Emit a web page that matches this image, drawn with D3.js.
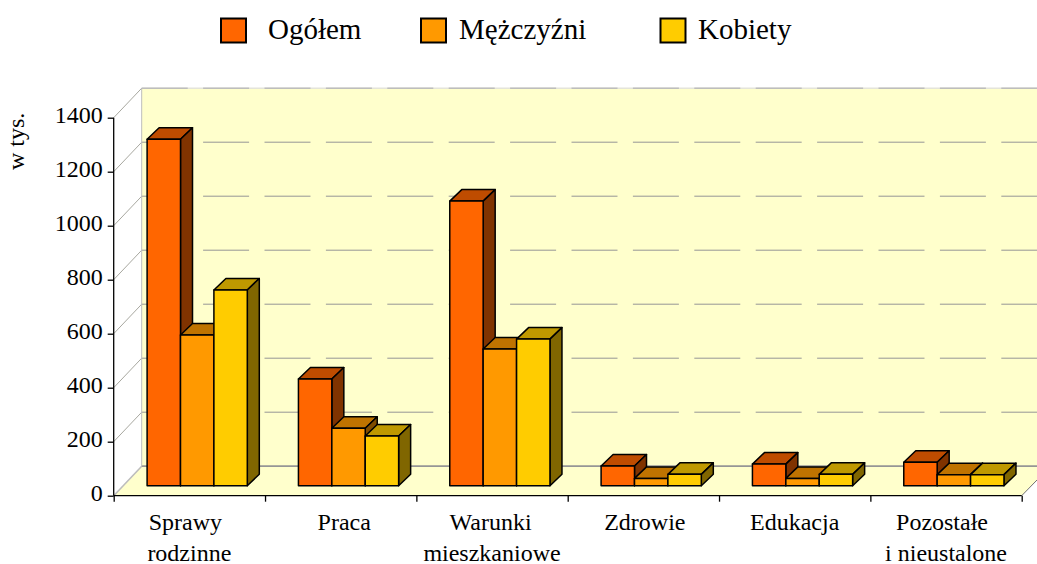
<!DOCTYPE html>
<html><head><meta charset="utf-8">
<script src="https://cdn.jsdelivr.net/npm/d3@7/dist/d3.min.js"></script>
<style>html,body{margin:0;padding:0;background:#fff}svg{display:block}text{font-family:"Liberation Serif",serif;fill:#000}</style>
</head><body><svg id="c" width="1037" height="564"></svg>
<script>
const categories = [["Sprawy","rodzinne"],["Praca"],["Warunki","mieszkaniowe"],["Zdrowie"],["Edukacja"],["Pozostałe","i nieustalone"]];
const seriesNames = ["Ogółem","Mężczyźni","Kobiety"];
const ogolem = [1283,395,1054,73,80,87];
const mezczyzni = [558,213,506,27,27,41];
const kobiety = [725,184,543,42,42,41];
const yTicks = [0,200,400,600,800,1000,1200,1400];
const frontColors = ["#FF6600","#FF9900","#FFCC00"];
const topColors = ["#BF4C00","#BF7300","#BF9900"];
const sideColors = ["#803300","#804D00","#806600"];
const legendBoxX = [221,421,660.5];
const legendTextX = [268,459,698];
const labelShift = [[-4,0],[3.5],[-1.5,0],[1.5],[0],[-4,0]];

const W=1037,H=564;
const svg=d3.select("#c");
const x0=d3.scaleBand().domain(d3.range(categories.length)).range([113.7,1021.7]);
const xS=d3.scaleBand().domain(d3.range(3)).range([33.4,133.6]);
const y=d3.scaleLinear().domain([0,1400]).range([495.7,117.7]);
const wallDx=28, wallDy=-29.5, barDy=-10, depthX=12, depthY=-11.5;
const poly=p=>p.map(a=>a.join(",")).join(" ");
const xL=x0.range()[0], xR=x0.range()[1];

// walls
svg.append("polygon").attr("points",poly([[xL,y(0)],[xL+wallDx,y(0)+wallDy],[xL+wallDx,y(1400)+wallDy],[W,y(1400)+wallDy],[W,y(0)-15.7],[xR,y(0)],[xL,y(0)]])).attr("fill","#FFFFCC");

// gridlines
const gg=svg.append("g");
gg.append("line").attr("x1",xL+wallDx).attr("x2",W).attr("y1",y(1400)+wallDy).attr("y2",y(1400)+wallDy).attr("stroke","#E4E4DA").attr("stroke-width",1.5);
yTicks.forEach(t=>{
  const yy=y(t)+wallDy;
  gg.append("line").attr("x1",xL).attr("y1",y(t)).attr("x2",xL+wallDx).attr("y2",yy)
    .attr("stroke",t===0?"#BDBDBD":"#A8A8A0").attr("stroke-width",t===0?1.6:1);
  const l=gg.append("line").attr("x1",xL+wallDx).attr("x2",W).attr("y1",yy).attr("y2",yy);
  if(t===0) l.attr("stroke","#969696").attr("stroke-width",1.8);
  else if(t===1400) l.attr("stroke","#BDBDBD").attr("stroke-width",1.5).attr("stroke-dasharray","46 15.4");
  else l.attr("stroke","#969696").attr("stroke-width",1).attr("stroke-dasharray","46 15.4");
});
gg.append("line").attr("x1",xL+wallDx).attr("x2",xL+wallDx).attr("y1",y(1400)+wallDy).attr("y2",y(0)+wallDy).attr("stroke","#BDBDBD").attr("stroke-width",1);
gg.append("line").attr("x1",xR).attr("y1",y(0)).attr("x2",W).attr("y2",y(0)-15.7).attr("stroke","#707070").attr("stroke-width",1);

// bars
const seriesVals=[ogolem,mezczyzni,kobiety];
const base=y(0)+barDy;
categories.forEach((c,i)=>{
  seriesVals.forEach((vals,s)=>{
    const xa=x0(i)+xS(s), xb=xa+xS.bandwidth(), yt=y(vals[i])+barDy;
    const g=svg.append("g").attr("stroke","#000").attr("stroke-width",1.5).attr("stroke-linejoin","round");
    g.append("polygon").attr("points",poly([[xa,yt],[xa+depthX,yt+depthY],[xb+depthX,yt+depthY],[xb,yt]])).attr("fill",topColors[s]);
    g.append("polygon").attr("points",poly([[xb,yt],[xb+depthX,yt+depthY],[xb+depthX,base+depthY],[xb,base]])).attr("fill",sideColors[s]);
    g.append("rect").attr("x",xa).attr("y",yt).attr("width",xb-xa).attr("height",base-yt).attr("fill",frontColors[s]);
  });
});

// y axis
const ya=svg.append("g").attr("transform",`translate(${xL},0)`)
  .call(d3.axisLeft(y).tickValues(yTicks).tickFormat(d3.format("d")).tickSize(6).tickPadding(5));
ya.selectAll("text").attr("font-size",24).attr("dy","5px").style("font-family",'"Liberation Serif",serif');
ya.selectAll("path,line").attr("stroke","#000").attr("stroke-width",1.3);
ya.select("path").attr("d",`M0,${y(1400)}V${y(0)}`);

// x axis
const xTickVals=d3.range(categories.length+1);
const xp=d3.scaleLinear().domain([0,categories.length]).range([xL,xR]);
const xa=svg.append("g").attr("transform",`translate(0,${y(0)})`)
  .call(d3.axisBottom(xp).tickValues(xTickVals).tickFormat("").tickSize(6));
xa.selectAll("path,line").attr("stroke","#000").attr("stroke-width",1.3);
xa.select("path").attr("d",`M${xL},0H${xR}`);

// category labels
categories.forEach((lines,i)=>{
  lines.forEach((t,j)=>{
    svg.append("text").attr("x",x0(i)+x0.bandwidth()/2+labelShift[i][j]).attr("y",529.5+j*31).attr("text-anchor","middle").attr("font-size",24).text(t);
  });
});

// y title
svg.append("text").attr("transform","translate(24,170) rotate(-90)").attr("font-size",24).text("w tys.");

// legend
seriesNames.forEach((n,i)=>{
  svg.append("rect").attr("x",legendBoxX[i]).attr("y",18.5).attr("width",25).attr("height",24).attr("fill",frontColors[i]).attr("stroke","#000").attr("stroke-width",2);
  svg.append("text").attr("x",legendTextX[i]).attr("y",39).attr("font-size",29).text(n);
});
</script></body></html>
